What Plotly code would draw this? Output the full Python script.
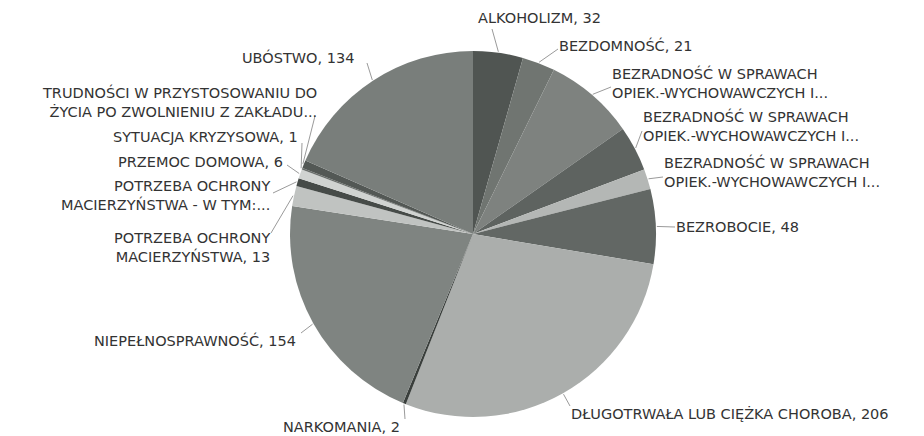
import math
import plotly.graph_objects as go

# ---- data ----
categories = [
    "ALKOHOLIZM",
    "BEZDOMNOŚĆ",
    "BEZRADNOŚĆ W SPRAWACH OPIEK.-WYCHOWAWCZYCH I... (1)",
    "BEZRADNOŚĆ W SPRAWACH OPIEK.-WYCHOWAWCZYCH I... (2)",
    "BEZRADNOŚĆ W SPRAWACH OPIEK.-WYCHOWAWCZYCH I... (3)",
    "BEZROBOCIE",
    "DŁUGOTRWAŁA LUB CIĘŻKA CHOROBA",
    "NARKOMANIA",
    "NIEPEŁNOSPRAWNOŚĆ",
    "POTRZEBA OCHRONY MACIERZYŃSTWA",
    "POTRZEBA OCHRONY MACIERZYŃSTWA - W TYM:...",
    "PRZEMOC DOMOWA",
    "SYTUACJA KRYZYSOWA",
    "TRUDNOŚCI W PRZYSTOSOWANIU DO ŻYCIA PO ZWOLNIENIU Z ZAKŁADU...",
    "UBÓSTWO",
]
values = [32, 21, 58, 29, 13, 48, 206, 2, 154, 13, 5, 6, 1, 5, 134]

# label text as shown (truncated labels carry no value)
label_names = [
    "ALKOHOLIZM",
    "BEZDOMNOŚĆ",
    "BEZRADNOŚĆ W SPRAWACH<br>OPIEK.-WYCHOWAWCZYCH I...",
    "BEZRADNOŚĆ W SPRAWACH<br>OPIEK.-WYCHOWAWCZYCH I...",
    "BEZRADNOŚĆ W SPRAWACH<br>OPIEK.-WYCHOWAWCZYCH I...",
    "BEZROBOCIE",
    "DŁUGOTRWAŁA LUB CIĘŻKA CHOROBA",
    "NARKOMANIA",
    "NIEPEŁNOSPRAWNOŚĆ",
    "POTRZEBA OCHRONY<br>MACIERZYŃSTWA",
    "POTRZEBA OCHRONY<br>MACIERZYŃSTWA - W TYM:...",
    "PRZEMOC DOMOWA",
    "SYTUACJA KRYZYSOWA",
    "TRUDNOŚCI W PRZYSTOSOWANIU DO<br>ŻYCIA PO ZWOLNIENIU Z ZAKŁADU...",
    "UBÓSTWO",
]
show_value = [True, True, False, False, False, True, True, True, True, True, False, True, True, False, True]

# ---- styles ----
colors = [
    "#505552", "#707571", "#7e827f", "#5e6360", "#b4b7b5",
    "#626764", "#abaeac", "#3a3f3c", "#7f8481", "#c0c3c1",
    "#464b48", "#d0d3d1", "#6a6f6c", "#535855", "#797e7b",
]

W, H = 924, 436
CX, CY, R = 473, 234, 183  # pie centre / radius in pixels
FONT_SIZE = 14.5

# label placement (pixels): text x, text y, anchor, leader end x, leader end y
label_pos = [
    (476, 18, "left", 492, 29),
    (557, 45, "left", 558, 49),
    (610, 83, "left", 611, 87),
    (641, 126, "left", 642, 131),
    (662, 172, "left", 663, 177),
    (674, 227, "left", 675, 227),
    (569, 413, "left", 570, 406),
    (402, 427, "right", 405, 419),
    (298, 340, "right", 301, 333),
    (272, 247, "right", 271, 233),
    (272, 195, "right", 273, 193),
    (285, 162, "right", 287, 165),
    (300, 137, "right", 302, 143),
    (319, 102, "right", 315, 116),
    (356, 58, "right", 367, 63),
]

fig = go.Figure()
fig.add_trace(go.Pie(
    labels=categories,
    values=values,
    sort=False,
    direction="clockwise",
    rotation=0,
    textinfo="none",
    hoverinfo="label+value",
    marker=dict(colors=colors, line=dict(width=0)),
    domain=dict(x=[(CX - R) / W, (CX + R) / W],
                y=[(H - CY - R) / H, (H - CY + R) / H]),
    showlegend=False,
))

total = sum(values)
cum = 0
shapes = []
annotations = []
for i, v in enumerate(values):
    mid = (cum + v / 2) / total * 2 * math.pi
    cum += v
    sx = CX + (R + 1) * math.sin(mid)
    sy = CY - (R + 1) * math.cos(mid)
    tx, ty, anc, ex, ey = label_pos[i]
    shapes.append(dict(
        type="line", xref="paper", yref="paper",
        x0=sx / W, y0=1 - sy / H, x1=ex / W, y1=1 - ey / H,
        line=dict(color="#9a9a9a", width=1),
    ))
    text = label_names[i] + (f", {v}" if show_value[i] else "")
    annotations.append(dict(
        x=tx / W, y=1 - ty / H, xref="paper", yref="paper",
        xanchor=anc, yanchor="middle", align=anc,
        text=text, showarrow=False,
        font=dict(family="DejaVu Sans", size=FONT_SIZE, color="#333333"),
    ))

fig.update_layout(
    width=W, height=H,
    margin=dict(l=0, r=0, t=0, b=0),
    paper_bgcolor="white",
    plot_bgcolor="white",
    shapes=shapes,
    annotations=annotations,
)

fig.write_html("out.html", config={"displayModeBar": False},
               post_script="document.body.style.margin='0';")
